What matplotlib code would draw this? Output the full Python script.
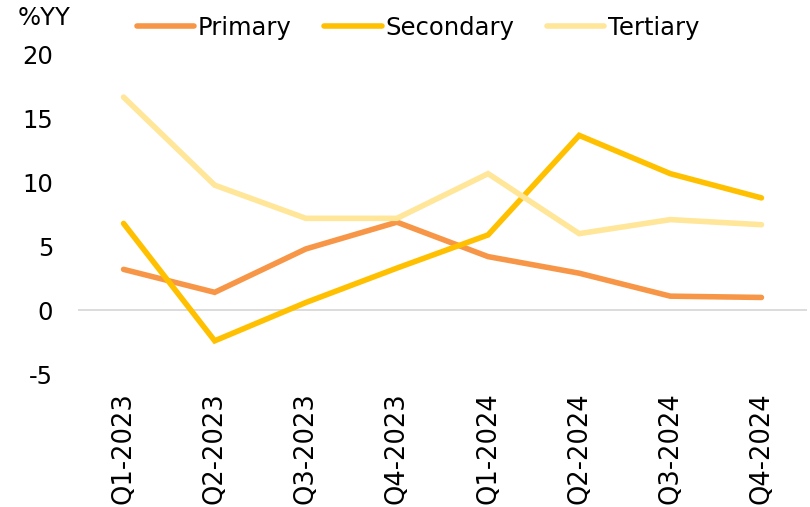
import matplotlib
matplotlib.use("Agg")
import matplotlib.pyplot as plt

quarters = ["Q1-2023", "Q2-2023", "Q3-2023", "Q4-2023",
            "Q1-2024", "Q2-2024", "Q3-2024", "Q4-2024"]
primary = [3.2, 1.4, 4.8, 6.9, 4.2, 2.9, 1.1, 1.0]
secondary = [6.8, -2.4, 0.6, 3.3, 5.9, 13.7, 10.7, 8.8]
tertiary = [16.7, 9.8, 7.2, 7.2, 10.7, 6.0, 7.1, 6.7]

series = [("Primary", primary, "#F79646"),
          ("Secondary", secondary, "#FFC000"),
          ("Tertiary", tertiary, "#FFE699")]

plt.rcParams["font.family"] = ["DejaVu Sans"]
FS = 17.5


def main():
    fig = plt.figure(figsize=(8.1, 5.07), dpi=100)
    ax = fig.add_axes([78 / 810, 1 - 374 / 507, 729 / 810, 319 / 507])

    x = range(len(quarters))
    handles = []
    for name, vals, color in series:
        h, = ax.plot(x, vals, color=color, lw=4, label=name,
                     solid_capstyle="round", solid_joinstyle="miter",
                     zorder=3)
        handles.append(h)

    ax.axhline(0, color="#D9D9D9", lw=1.3, zorder=1)
    ax.set_xlim(-0.5, len(quarters) - 0.5)
    ax.set_ylim(-5, 20)
    ax.set_yticks([-5, 0, 5, 10, 15, 20])
    ax.set_yticklabels(["-5", "0", "5", "10", "15", "20"])
    ax.set_xticks(list(x))
    ax.set_xticklabels(quarters, rotation=90)
    ax.tick_params(axis="y", length=0, pad=18, labelsize=FS)
    ax.tick_params(axis="x", length=0, pad=13, labelsize=18.5)
    for s in ax.spines.values():
        s.set_visible(False)

    fig.text(18 / 810, 1 - 18 / 507, "%YY", fontsize=FS,
             ha="left", va="center")
    fig.legend(handles=handles, loc="center left",
               bbox_to_anchor=(137 / 810, 1 - 28 / 507), ncol=3,
               frameon=False, fontsize=FS, borderpad=0, borderaxespad=0,
               handlelength=2.35, handletextpad=0.15, columnspacing=1.35)

    fig.savefig("out.png", dpi=100)


if __name__ == "__main__":
    main()
